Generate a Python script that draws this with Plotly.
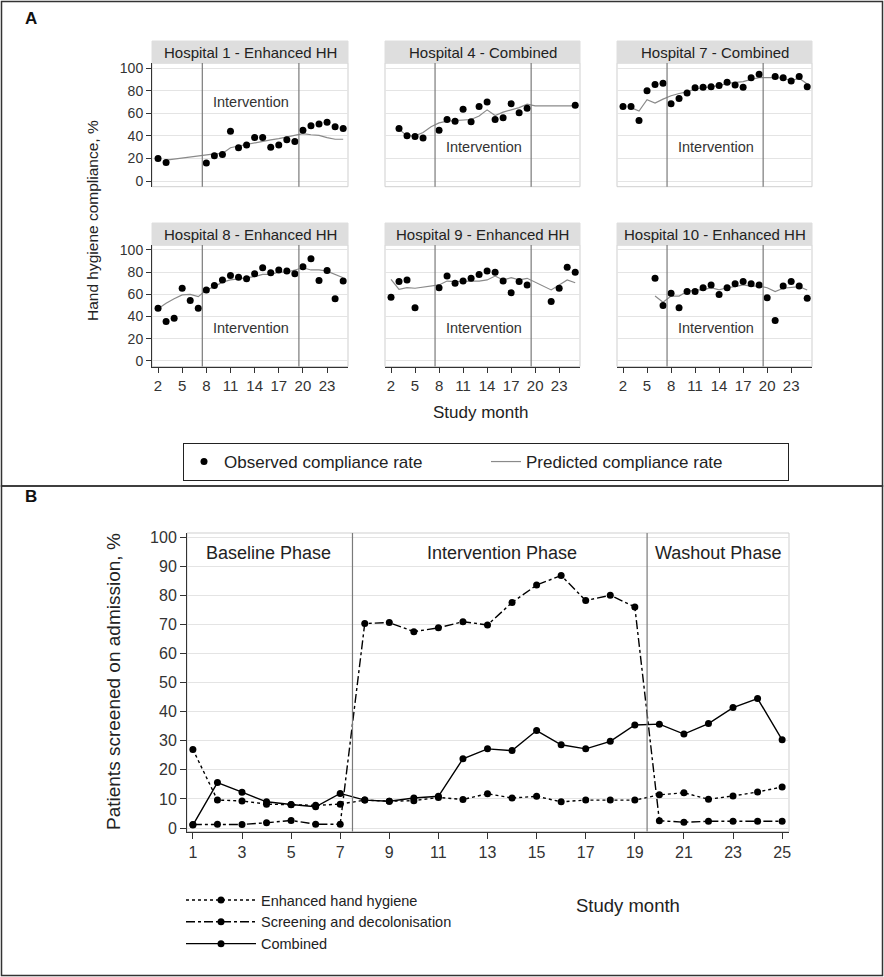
import plotly.graph_objects as go

FONT = "Arial, 'Liberation Sans', sans-serif"
W, H = 884, 977

# ---------------- Panel A data ----------------
HOSPITALS = ["Hospital 1 - Enhanced HH", "Hospital 4 - Combined", "Hospital 7 - Combined",
             "Hospital 8 - Enhanced HH", "Hospital 9 - Enhanced HH", "Hospital 10 - Enhanced HH"]

H1_OBS_MONTHS = [2, 3, 8, 9, 10, 11, 12, 13, 14, 15, 16, 17, 18, 19, 20, 21, 22, 23, 24, 25]
H1_OBS = [20, 16.5, 16, 22.5, 23.5, 44, 29.5, 32, 38.5, 38.5, 30, 32, 36.5, 35, 45, 49, 50.5, 52, 48, 46.5]
H1_PRED_MONTHS = list(range(3, 26))
H1_PRED = [18.5, 19.5, 20.5, 21.5, 22.5, 23, 24, 24.5, 29.5, 31, 32.5, 34, 35.5, 36.5, 37.5, 39, 40.5,
           42, 41, 40.5, 38.5, 37, 37]

H4_OBS_MONTHS = [3, 4, 5, 6, 8, 9, 10, 11, 12, 13, 14, 15, 16, 17, 18, 19, 25]
H4_OBS = [46.5, 40, 39.5, 38, 45, 54.5, 53, 63.5, 52.5, 66, 70, 54.5, 56, 68.5, 60.5, 64.5, 67]
H4_PRED_MONTHS = [3, 4, 5, 6, 7, 8, 9, 10, 11, 12, 13, 14, 15, 16, 17, 18, 19, 20, 25]
H4_PRED = [46, 40, 40, 43, 48, 51.5, 53, 53.5, 54, 54.5, 57.5, 63, 58, 61, 63, 65, 68, 66.5, 66.5]

H7_OBS_MONTHS = [2, 3, 4, 5, 6, 7, 8, 9, 10, 11, 12, 13, 14, 15, 16, 17, 18, 19, 21, 22, 23, 24, 25]
H7_OBS = [66, 66, 53.5, 80, 85.5, 86.5, 68.5, 73, 78, 82.5, 83, 83.5, 84.5, 87.5, 85, 83, 91.5, 94.5,
          92.5, 91.5, 88.5, 92.5, 83.5]
H7_PRED_MONTHS = [3, 4, 5, 6, 7, 8, 9, 10, 11, 12, 13, 14, 15, 16, 17, 18, 19, 21, 22, 23, 24, 25]
H7_PRED = [65, 62, 72, 69, 72.5, 75.5, 77.5, 79, 81.5, 82.5, 83.5, 84.5, 86.5, 87.5, 88, 90, 91.5,
           91.5, 91, 89, 91, 86]

H8_OBS_MONTHS = list(range(2, 26))
H8_OBS = [47.5, 35.5, 38.5, 65.5, 54.5, 47.5, 64, 68, 73, 77, 75.5, 74, 78.5, 84, 79.5, 82, 81, 78.5,
          85, 92, 72.5, 81.5, 56, 72]
H8_PRED_MONTHS = list(range(2, 26))
H8_PRED = [47, 52, 56, 59.5, 60, 58, 64, 67, 71, 73, 74, 75, 76, 78, 78, 80, 80, 82, 84, 82, 82, 81, 78, 75]

H9_OBS_MONTHS = [2, 3, 4, 5, 8, 9, 10, 11, 12, 13, 14, 15, 16, 17, 18, 19, 22, 23, 24, 25]
H9_OBS = [57.5, 71.5, 73, 48, 66, 76.5, 70, 72, 74.5, 78, 81, 80, 72, 61.5, 71.5, 68.5, 53.5, 65.5, 84.5, 80]
H9_PRED_MONTHS = [2, 3, 4, 5, 8, 9, 10, 11, 12, 13, 14, 15, 16, 17, 18, 19, 22, 23, 24, 25]
H9_PRED = [73.5, 64.5, 66, 65.5, 68.5, 72, 71.5, 72, 72, 72, 73, 76.5, 73, 75, 73, 74.5, 64, 68.5, 73, 70.5]

H10_OBS_MONTHS = list(range(6, 26))
H10_OBS = [74.5, 50, 61, 48, 62.5, 62.5, 66, 68.5, 60, 66, 69.5, 71.5, 69.5, 68.5, 57, 36.5, 67.5, 71.5,
           67.5, 56.5]
H10_PRED_MONTHS = list(range(6, 26))
H10_PRED = [58.5, 53, 58.5, 58.5, 62.5, 64, 64, 66, 64, 66, 67, 68.5, 67.5, 67.5, 66, 62.5, 65.5, 66.5, 67, 64]

OBS_MONTHS = [H1_OBS_MONTHS, H4_OBS_MONTHS, H7_OBS_MONTHS, H8_OBS_MONTHS, H9_OBS_MONTHS, H10_OBS_MONTHS]
OBS = [H1_OBS, H4_OBS, H7_OBS, H8_OBS, H9_OBS, H10_OBS]
PRED_MONTHS = [H1_PRED_MONTHS, H4_PRED_MONTHS, H7_PRED_MONTHS, H8_PRED_MONTHS, H9_PRED_MONTHS, H10_PRED_MONTHS]
PRED = [H1_PRED, H4_PRED, H7_PRED, H8_PRED, H9_PRED, H10_PRED]
INTERVENTION_LABEL_Y = [70, 30, 30, 30, 30, 30]

A_XTICKS = [2, 5, 8, 11, 14, 17, 20, 23]
A_YTICKS = [0, 20, 40, 60, 80, 100]

PHASE_BOUNDS = [7.5, 19.5]

# ---------------- Panel B data ----------------
B_MONTHS = list(range(1, 26))
B_EHH = [27, 9.6, 9.3, 8.2, 8, 7.8, 8.2, 9.6, 9.2, 9.4, 10.5, 9.8, 11.8, 10.3, 10.9, 9, 9.6, 9.6, 9.6,
         11.4, 12.1, 9.9, 11, 12.4, 14.1]
B_SD = [1.2, 1.3, 1.2, 1.8, 2.6, 1.3, 1.3, 70.3, 70.6, 67.5, 68.8, 70.9, 69.8, 77.5, 83.5, 86.8, 78.2,
        80, 76, 2.5, 2, 2.3, 2.3, 2.3, 2.3]
B_COMB = [1, 15.6, 12.3, 9, 8.1, 7.3, 11.9, 9.6, 9.2, 10.3, 10.9, 23.8, 27.2, 26.6, 33.5, 28.6, 27.2,
          29.8, 35.4, 35.7, 32.3, 35.9, 41.4, 44.5, 30.3]
B_SERIES = ["Enhanced hand hygiene", "Screening and decolonisation", "Combined"]
B_XTICKS = list(range(1, 26, 2))
B_YTICKS = list(range(0, 101, 10))
B_PHASES = ["Baseline Phase", "Intervention Phase", "Washout Phase"]

# ---------------- geometry (pixels) ----------------
COLS_PX = [(152, 348), (385, 580), (617, 812)]
ROWS_PX = [(63, 186.7), (245, 366.5)]
STRIP_PX = [(41, 63), (223, 245)]
B_X_PX = (187, 789)
B_Y_PX = (533, 831.5)


def px_x(v):
    return v / W


def px_y(v):
    return 1 - v / H


fig = go.Figure()
layout = dict(width=W, height=H, margin=dict(l=0, r=0, t=0, b=0, autoexpand=False),
              paper_bgcolor="white", plot_bgcolor="white",
              font=dict(family=FONT, color="#222"), showlegend=True)
shapes = []
annotations = []

GRID = "#e4e4e4"
FRAME = "#cfcfcf"
AXIS = "#333333"

for i in range(6):
    r, c = divmod(i, 3)
    n = i + 1
    xa = "xaxis" if n == 1 else f"xaxis{n}"
    ya = "yaxis" if n == 1 else f"yaxis{n}"
    xr = "x" if n == 1 else f"x{n}"
    yr = "y" if n == 1 else f"y{n}"
    layout[xa] = dict(domain=[px_x(COLS_PX[c][0]), px_x(COLS_PX[c][1])], anchor=yr,
                      range=[1.25, 25.6], showgrid=False, zeroline=False,
                      showline=(r == 1), linecolor=AXIS, linewidth=1,
                      ticks="outside" if r == 1 else "", ticklen=5, tickcolor=AXIS,
                      tickvals=A_XTICKS, showticklabels=(r == 1),
                      tickfont=dict(size=15, color="#333"))
    layout[ya] = dict(domain=[px_y(ROWS_PX[r][1]), px_y(ROWS_PX[r][0])], anchor=xr,
                      range=[-5, 104.5], showgrid=True, gridcolor=GRID, zeroline=False,
                      showline=(c == 0), linecolor=AXIS, linewidth=1,
                      ticks="outside" if c == 0 else "", ticklen=5, tickcolor=AXIS,
                      tickvals=A_YTICKS, showticklabels=(c == 0),
                      tickfont=dict(size=14, color="#333"))
    shapes.append(dict(type="rect", xref=f"{xr} domain", yref=f"{yr} domain", x0=0, x1=1, y0=0, y1=1,
                       line=dict(color=FRAME, width=1), layer="below"))
    shapes.append(dict(type="rect", xref=f"{xr} domain", yref="paper", x0=0, x1=1,
                       y0=px_y(STRIP_PX[r][1]), y1=px_y(STRIP_PX[r][0]),
                       fillcolor="#dedede", line=dict(color="#dedede", width=1), layer="below"))
    annotations.append(dict(text=HOSPITALS[i], xref=f"{xr} domain", yref="paper", x=0.5,
                            y=px_y((STRIP_PX[r][0] + STRIP_PX[r][1]) / 2), showarrow=False,
                            xanchor="center", yanchor="middle",
                            font=dict(size=15, color="#222", family=FONT)))
    for b in PHASE_BOUNDS:
        shapes.append(dict(type="line", xref=xr, yref=f"{yr} domain", x0=b, x1=b, y0=0, y1=1,
                           line=dict(color="#7a7a7a", width=1.2)))
    annotations.append(dict(text="Intervention", xref=xr, yref=yr, x=13.6, y=INTERVENTION_LABEL_Y[i],
                            showarrow=False, xanchor="center", yanchor="middle",
                            font=dict(size=14.5, color="#333")))
    fig.add_trace(go.Scatter(x=PRED_MONTHS[i], y=PRED[i], mode="lines", xaxis=xr, yaxis=yr,
                             line=dict(color="#8a8a8a", width=1.2), name="Predicted compliance rate",
                             showlegend=(i == 0), legend="legend", legendrank=2, hoverinfo="skip"))
    fig.add_trace(go.Scatter(x=OBS_MONTHS[i], y=OBS[i], mode="markers", xaxis=xr, yaxis=yr,
                             marker=dict(color="black", size=7, symbol="circle"),
                             name="Observed compliance rate", showlegend=(i == 0), legend="legend",
                             legendrank=1, hoverinfo="skip"))

# ---------------- Panel B ----------------
layout["xaxis7"] = dict(domain=[px_x(B_X_PX[0]), px_x(B_X_PX[1])], anchor="y7", range=[0.76, 25.28],
                        showgrid=False, zeroline=False, showline=True, linecolor=AXIS, linewidth=1,
                        ticks="outside", ticklen=6, tickcolor=AXIS, tickvals=B_XTICKS,
                        tickfont=dict(size=16, color="#333"))
layout["yaxis7"] = dict(domain=[px_y(B_Y_PX[1]), px_y(B_Y_PX[0])], anchor="x7", range=[-1.2, 101.4],
                        showgrid=True, gridcolor=GRID, zeroline=False, showline=True, linecolor=AXIS,
                        linewidth=1, ticks="outside", ticklen=6, tickcolor=AXIS, tickvals=B_YTICKS,
                        tickfont=dict(size=16, color="#333"))
shapes.append(dict(type="rect", xref="x7 domain", yref="y7 domain", x0=0, x1=1, y0=0, y1=1,
                   line=dict(color=FRAME, width=1), layer="below"))
for b in PHASE_BOUNDS:
    shapes.append(dict(type="line", xref="x7", yref="y7 domain", x0=b, x1=b, y0=0, y1=1,
                       line=dict(color="#7a7a7a", width=1.2)))

B_DASH = ["dot", "dashdot", "solid"]
B_VALUES = [B_EHH, B_SD, B_COMB]
for name, vals, dash in zip(B_SERIES, B_VALUES, B_DASH):
    fig.add_trace(go.Scatter(x=B_MONTHS, y=vals, mode="lines+markers", xaxis="x7", yaxis="y7",
                             line=dict(color="black", width=1.4, dash=dash),
                             marker=dict(color="black", size=7, symbol="circle"),
                             name=name, legend="legend2", hoverinfo="skip"))


def ann(text, x, y, size, xanchor="center", angle=0, color="#222", xref="paper", yref="paper"):
    return dict(text=text, xref=xref, yref=yref, x=x, y=y, xanchor=xanchor, yanchor="middle",
                textangle=angle, showarrow=False, font=dict(size=size, color=color))


annotations += [
    ann(B_PHASES[0], 1.45, 94.5, 18, "left", xref="x7", yref="y7"),
    ann(B_PHASES[1], 13.6, 94.5, 18, "center", xref="x7", yref="y7"),
    ann(B_PHASES[2], 19.75, 94.5, 18, "left", xref="x7", yref="y7"),
    ann("Patients screened on admission, %", px_x(113), px_y(681), 19, angle=-90),
    ann("Study month", px_x(628), px_y(905), 18.5),
    ann("Hand hygiene compliance, %", px_x(93), px_y(221), 15.5, angle=-90),
    ann("Study month", px_x(481), px_y(412), 17),
    ann("<b>A</b>", px_x(23), px_y(19), 17, "left", color="#111"),
    ann("<b>B</b>", px_x(23), px_y(497), 17, "left", color="#111"),
]

shapes.append(dict(type="rect", xref="paper", yref="paper", x0=px_x(1.5), x1=px_x(882.5),
                   y0=px_y(486), y1=px_y(1.5), line=dict(color="#333", width=1.5)))
shapes.append(dict(type="rect", xref="paper", yref="paper", x0=px_x(1.5), x1=px_x(882.5),
                   y0=px_y(975.5), y1=px_y(486), line=dict(color="#333", width=1.5)))

layout["shapes"] = shapes
layout["annotations"] = annotations
layout["legend"] = dict(orientation="h", x=px_x(486), xanchor="center", y=px_y(443), yanchor="top",
                        bordercolor="#222", borderwidth=1, bgcolor="white",
                        font=dict(size=17, color="#222"), entrywidth=257, entrywidthmode="pixels",
                        traceorder="normal")
layout["legend2"] = dict(orientation="v", x=px_x(181), xanchor="left", y=px_y(884), yanchor="top",
                         borderwidth=0, bgcolor="rgba(0,0,0,0)", font=dict(size=14.5, color="#222"),
                         tracegroupgap=0, traceorder="normal", itemwidth=70)

fig.update_layout(**layout)
fig.write_html("out.html", config={"displayModeBar": False},
               post_script="document.body.style.margin='0px';document.body.style.overflow='hidden';")
